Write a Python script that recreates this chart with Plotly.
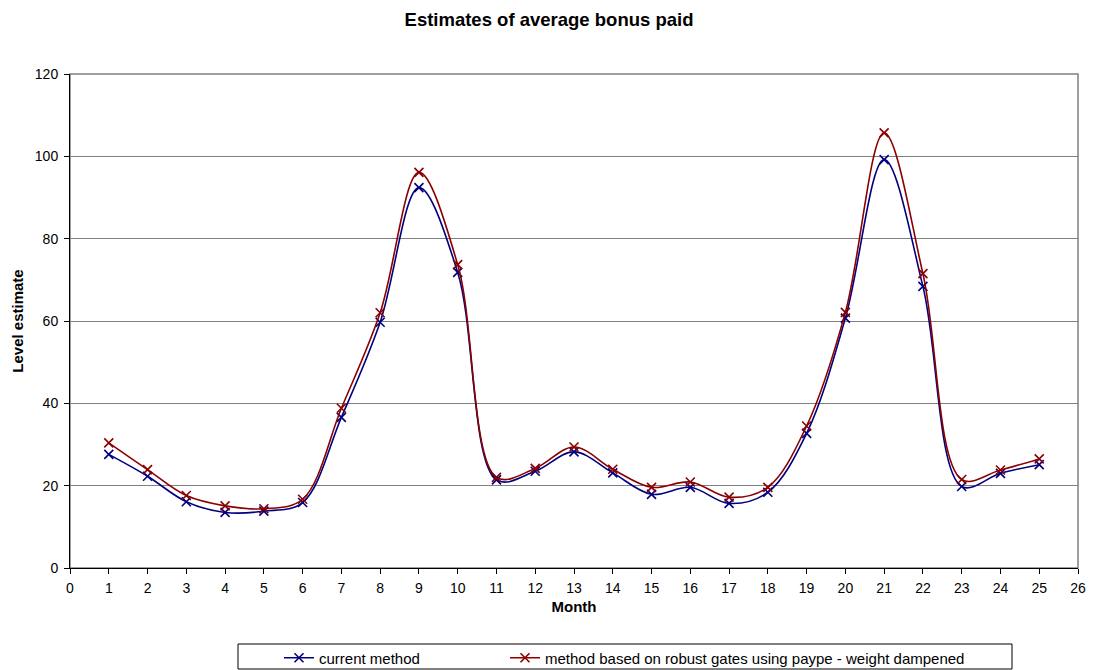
import plotly.graph_objects as go

months = list(range(1, 26))
current_method = [27.6, 22.3, 16.1, 13.5, 13.8, 15.9, 36.6, 59.7, 92.4, 71.8,
                  21.4, 23.5, 28.2, 23.1, 17.9, 19.6, 15.7, 18.4, 32.7, 60.7,
                  99.2, 68.4, 19.8, 23.0, 25.1]
robust_gates = [30.4, 23.9, 17.6, 15.1, 14.4, 16.7, 38.8, 62.0, 96.1, 73.7,
                22.0, 24.2, 29.4, 24.0, 19.6, 20.9, 17.2, 19.6, 34.5, 62.1,
                105.7, 71.5, 21.5, 23.8, 26.5]
series_names = ["current method",
                "method based on robust gates using paype - weight dampened"]
x_ticks = list(range(0, 27))
y_ticks = [0, 20, 40, 60, 80, 100, 120]

BLUE = "#000080"
RED = "#8B0000"
FONT = "Liberation Sans, Arial, sans-serif"

PL, PR, PT, PB = 70, 1078, 74, 568
W, H = 1098, 670

fig = go.Figure()
for vals, name, col, lg in [(current_method, series_names[0], BLUE, "legend"),
                            (robust_gates, series_names[1], RED, "legend2")]:
    fig.add_trace(go.Scatter(
        x=months, y=vals, name=name, mode="lines+markers", legend=lg,
        line=dict(color=col, width=1.6, shape="spline", smoothing=1.0),
        marker=dict(symbol="x-thin", size=9, color=col,
                    line=dict(color=col, width=1.6)),
    ))

def leg(px):
    return dict(orientation="h", x=px / W, xref="container", xanchor="left",
                y=1 - 658 / H, yref="container", yanchor="middle",
                bgcolor="rgba(0,0,0,0)", borderwidth=0,
                font=dict(size=15, family=FONT, color="black"), itemwidth=30)

fig.update_layout(
    width=W, height=H,
    margin=dict(l=PL, r=W - PR, t=PT, b=H - PB, autoexpand=False),
    paper_bgcolor="white", plot_bgcolor="white",
    font=dict(family=FONT, size=14, color="black"),
    title=dict(text="<b>Estimates of average bonus paid</b>",
               x=0.5, xref="container", xanchor="center",
               y=1 - 20 / H, yref="container", yanchor="middle",
               font=dict(size=18.5, family=FONT, color="black")),
    showlegend=True,
    legend=leg(279),
    legend2=leg(505),
    shapes=[
        dict(type="rect", xref="paper", yref="paper", x0=0, x1=1, y0=0, y1=1,
             line=dict(color="#808080", width=1.5), layer="below"),
        dict(type="rect", xref="paper", yref="paper",
             x0=(238 - PL) / (PR - PL), x1=(1012 - PL) / (PR - PL),
             y0=-(644 - PB) / (PB - PT), y1=-(669 - PB) / (PB - PT),
             line=dict(color="black", width=1), layer="below"),
    ],
)

fig.update_xaxes(
    range=[0, 26], tickmode="array", tickvals=x_ticks,
    ticktext=[str(v) for v in x_ticks],
    showline=True, linecolor="black", linewidth=1,
    ticks="outside", ticklen=5, tickcolor="black",
    showgrid=False, zeroline=False, ticklabelstandoff=2,
    title=dict(text="<b>Month</b>", font=dict(size=15, family=FONT), standoff=6),
)
fig.update_yaxes(
    range=[0, 120], tickmode="array", tickvals=y_ticks,
    ticktext=[str(v) for v in y_ticks],
    showline=True, linecolor="black", linewidth=1,
    ticks="outside", ticklen=5, tickcolor="black",
    showgrid=True, gridcolor="#808080", gridwidth=1,
    zeroline=False, ticklabelstandoff=3,
    title=dict(text="<b>Level estimate</b>", font=dict(size=15, family=FONT), standoff=7),
)

fig.write_html("out.html")
